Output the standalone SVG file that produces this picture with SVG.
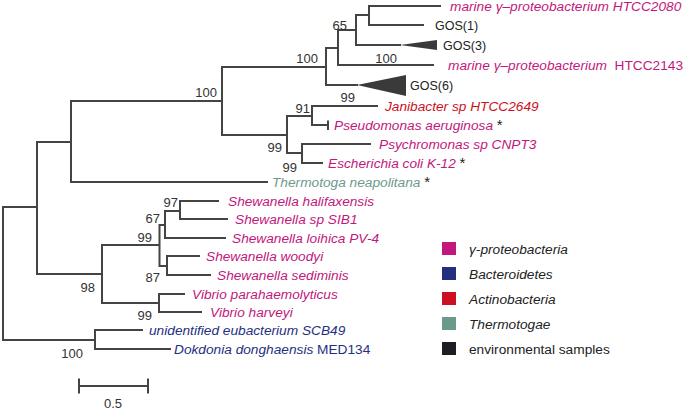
<svg xmlns="http://www.w3.org/2000/svg" width="685" height="410" viewBox="0 0 685 410">
<style>
.br{fill:none;stroke:#444;stroke-width:2;stroke-linecap:square}
.t{font-family:"Liberation Sans",Arial,sans-serif;font-size:13.7px;font-style:italic}
.u{font-style:normal}
.g{fill:#c2177c}.n{fill:#24307f}.r{fill:#cc1022}.m{fill:#6b9a8c}.k{fill:#222}
.s{fill:#222;font-style:normal;font-size:15px}
.b{font-family:"Liberation Sans",Arial,sans-serif;font-size:13px;fill:#333}
.gos{font-family:"Liberation Sans",Arial,sans-serif;font-size:12.5px;fill:#222}
.lg{font-family:"Liberation Sans",Arial,sans-serif;font-size:13.7px;fill:#222}
.tri{fill:#3a3a3a}
</style>
<rect width="685" height="410" fill="#fff"/>
<g id="connectors">
<path class="br" d="M3,207V340 M3,207H37 M37,142V274 M37,142H71 M71,101V182 M71,101H222 M71,182H267
M222,67V135 M222,67H326 M326,48V85 M326,48H338 M338,30V65 M338,65H433 M338,30H356 M356,15V45 M356,15H369 M369,6V25 M369,6H440 M369,25H423 M356,45H400 M326,85H357
M222,135H287 M287,116V153 M287,116H312 M312,106V125 M312,106H377 M312,125H328 M328,121.5V129 M287,153H302 M302,144V163 M302,144H370 M302,163H322
M37,274H102 M102,245V303 M102,245H159.5 M159.5,225V266 M159.5,225H165 M165,211V238 M165,211H180 M180,201V219 M180,201H218 M180,219H227 M165,238H225
M159.5,266H167 M167,256V275 M167,256H199 M167,275H210
M102,303H159 M159,294V312 M159,294H184 M159,312H201
M3,340H95 M95,330V349 M95,330H142 M95,349H170"/>
<polygon class="tri" points="400,45 437,40 437,50"/>
<polygon class="tri" points="357,85 406,75 406,96"/>
</g>
<g id="leaf-htcc2080"><text class="t g" x="450" y="11">marine γ–proteobacterium HTCC2080</text></g>
<g id="leaf-gos1"><text class="gos" x="435" y="30">GOS(1)</text></g>
<g id="leaf-gos3"><text class="gos" x="443" y="50">GOS(3)</text></g>
<g id="leaf-htcc2143"><text class="t g" x="448" y="70" xml:space="preserve">marine γ–proteobacterium  <tspan class="u">HTCC2143</tspan></text></g>
<g id="leaf-gos6"><text class="gos" x="410" y="90">GOS(6)</text></g>
<g id="leaf-janibacter"><text class="t r" x="385" y="111">Janibacter sp HTCC2649</text></g>
<g id="leaf-pseudomonas"><text class="t g" x="334" y="130">Pseudomonas aeruginosa <tspan class="s">*</tspan></text></g>
<g id="leaf-psychromonas"><text class="t g" x="379" y="149">Psychromonas sp CNPT3</text></g>
<g id="leaf-escherichia"><text class="t g" x="328" y="168">Escherichia coli K-12 <tspan class="s">*</tspan></text></g>
<g id="leaf-thermotoga"><text class="t m" x="272" y="187">Thermotoga neapolitana <tspan class="s">*</tspan></text></g>
<g id="leaf-halifaxensis"><text class="t g" x="228" y="206">Shewanella halifaxensis</text></g>
<g id="leaf-sib1"><text class="t g" x="235" y="224">Shewanella sp SIB1</text></g>
<g id="leaf-loihica"><text class="t g" x="232" y="243">Shewanella loihica PV-4</text></g>
<g id="leaf-woodyi"><text class="t g" x="206" y="261">Shewanella woodyi</text></g>
<g id="leaf-sediminis"><text class="t g" x="217" y="280">Shewanella sediminis</text></g>
<g id="leaf-vpara"><text class="t g" x="192" y="299">Vibrio parahaemolyticus</text></g>
<g id="leaf-vharveyi"><text class="t g" x="210" y="317">Vibrio harveyi</text></g>
<g id="leaf-scb49"><text class="t n" x="149" y="335">unidentified eubacterium SCB49</text></g>
<g id="leaf-dokdonia"><text class="t n" x="174" y="354">Dokdonia donghaensis <tspan class="u">MED134</tspan></text></g>
<g id="bootstrap">
<text class="b" x="318" y="63" text-anchor="end">100</text>
<text class="b" x="397" y="63" text-anchor="end">100</text>
<text class="b" x="217" y="97" text-anchor="end">100</text>
<text class="b" x="347" y="30" text-anchor="end">65</text>
<text class="b" x="355" y="102" text-anchor="end">99</text>
<text class="b" x="310" y="113" text-anchor="end">91</text>
<text class="b" x="282" y="152" text-anchor="end">99</text>
<text class="b" x="297" y="172" text-anchor="end">99</text>
<text class="b" x="178" y="207" text-anchor="end">97</text>
<text class="b" x="160" y="223" text-anchor="end">67</text>
<text class="b" x="152" y="242" text-anchor="end">99</text>
<text class="b" x="160" y="282" text-anchor="end">87</text>
<text class="b" x="95" y="292" text-anchor="end">98</text>
<text class="b" x="152" y="320" text-anchor="end">99</text>
<text class="b" x="83" y="358" text-anchor="end">100</text>
</g>
<g id="scale">
<path class="br" d="M79,386H148 M79,379.5V392.5 M148,379.5V392.5"/>
<text class="b" x="113" y="408" text-anchor="middle">0.5</text>
</g>
<g id="legend">
<rect x="442" y="242" width="14" height="13" fill="#c2177c"/>
<rect x="442" y="267" width="14" height="13" fill="#24307f"/>
<rect x="442" y="292" width="14" height="13" fill="#cc1022"/>
<rect x="442" y="317" width="14" height="13" fill="#6b9a8c"/>
<rect x="442" y="342" width="14" height="13" fill="#1e1e24"/>
<text class="lg" x="469" y="254" font-style="italic">γ-proteobacteria</text>
<text class="lg" x="469" y="279" font-style="italic">Bacteroidetes</text>
<text class="lg" x="469" y="304" font-style="italic">Actinobacteria</text>
<text class="lg" x="469" y="329" font-style="italic">Thermotogae</text>
<text class="lg" x="469" y="354">environmental samples</text>
</g>
</svg>
